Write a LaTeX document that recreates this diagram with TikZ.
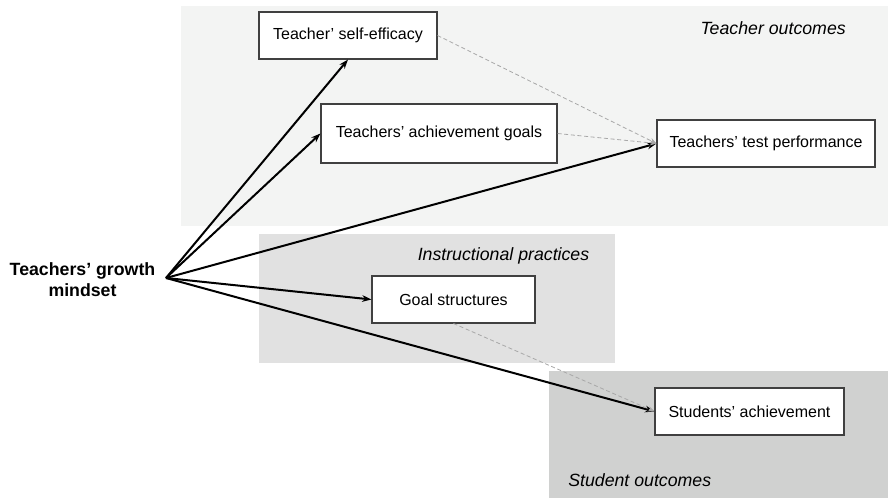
\documentclass[tikz,border=0pt]{standalone}
\usepackage{fontspec}
\setmainfont{Liberation Sans}
\usepackage{tikz}
\usetikzlibrary{arrows.meta, positioning}
\definecolor{teacherbg}{HTML}{F3F4F3}
\definecolor{practicebg}{HTML}{E1E1E1}
\definecolor{studentbg}{HTML}{D0D1D0}
\definecolor{boxline}{HTML}{404040}
\definecolor{dashline}{HTML}{A8A8A8}
\tikzset{%
	every variable/.style={
		rectangle,
		draw=boxline,
		fill=white,
		line width=0.8pt,
		minimum height=35.25pt,
		font=\fontsize{12}{14}\selectfont
	},
	path arrow/.style={
		line width=1.5pt,
		-{Stealth[length=7pt,width=5pt]}
	},
	side arrow/.style={
		draw=dashline,
		dash pattern=on 3pt off 2pt,
		line width=0.6pt,
		-{Stealth[length=5pt,width=4pt]}
	},
	region label/.style={
		inner sep=0pt,
		font=\fontsize{13.3}{16}\selectfont\itshape
	},
}
\begin{document}
\begin{tikzpicture}[x=0.75pt, y=-0.75pt]
	\useasboundingbox (0,0) rectangle (888,498);
	\fill[teacherbg] (181,6) rectangle (888,226);
	\fill[practicebg] (259,234) rectangle (615,363);
	\fill[studentbg] (549,371) rectangle (888,498);
	
	\node[region label, anchor=east] (teacherlab) at (846,28.5) {Teacher outcomes};
	\node[region label] (practicelab) at (503.5,255.5) {Instructional practices};
	\node[region label, anchor=west] (studentlab) at (568,480) {Student outcomes};
	
	\node[align=center, font=\fontsize{13.3}{15.75}\selectfont\bfseries] (mindset) at (82.5,280) {Teachers' growth\\mindset};
	\coordinate (hub) at (166,278);
	
	\node[every variable, minimum width=133.5pt] (selfeff) at (348,35.5) {Teacher' self-efficacy};
	\node[every variable, minimum width=177pt, minimum height=44.25pt] (achgoals) at (439,133.5) {Teachers' achievement goals};
	\node[every variable, minimum width=163.5pt] (testperf) at (766,143.5) {Teachers' test performance};
	\node[every variable, minimum width=122.25pt] (goalstr) at (453.5,299.5) {Goal structures};
	\node[every variable, minimum width=141.75pt] (stuach) at (749.5,411.5) {Students' achievement};
	
	\draw[path arrow] (hub) -- (selfeff.south);
	\draw[path arrow] (hub) -- (achgoals.west);
	\draw[path arrow] (hub) -- (testperf.west);
	\draw[path arrow] (hub) -- (goalstr.west);
	\draw[path arrow] (hub) -- (stuach.west);
	
	\draw[side arrow] (selfeff.east) -- (testperf.west);
	\draw[side arrow] (achgoals.east) -- (testperf.west);
	\draw[side arrow] (goalstr.south) -- (stuach.west);
\end{tikzpicture}
\end{document}
